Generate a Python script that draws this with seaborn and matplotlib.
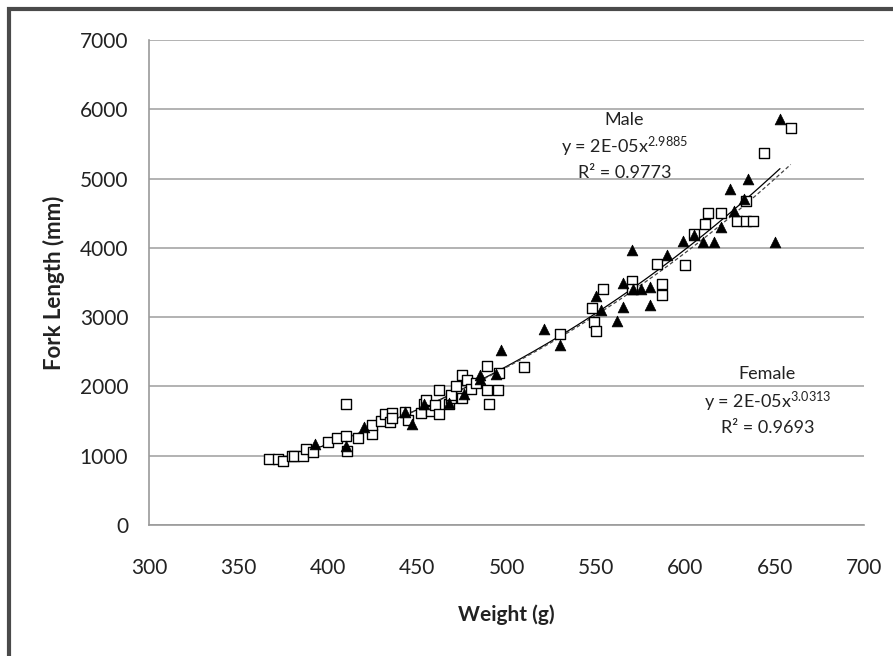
import numpy as np
import pandas as pd
import matplotlib
matplotlib.use("Agg")
import matplotlib.pyplot as plt
from matplotlib.patches import Rectangle
import seaborn as sns

# Data
# open squares (dashed trend line)
female_weight = [367, 372, 375, 380, 381, 386, 388, 392, 400, 405, 410, 410, 411, 417,
                 425, 425, 430, 432, 435, 436, 436, 443, 445, 452, 454, 455, 458, 460,
                 462, 462, 468, 469, 469, 472, 475, 475, 478, 480, 483, 489, 489, 490,
                 495, 496, 510, 530, 548, 549, 550, 554, 570, 570, 584, 587, 587, 600,
                 605, 611, 613, 620, 629, 634, 638, 634, 644, 659]
female_length = [950, 950, 920, 1000, 1000, 1000, 1100, 1050, 1200, 1250, 1290, 1750, 1070, 1250,
                 1310, 1450, 1500, 1600, 1490, 1620, 1550, 1630, 1510, 1610, 1750, 1800, 1650, 1730,
                 1950, 1600, 1750, 1840, 1880, 2010, 2160, 1840, 2100, 1960, 2050, 2300, 1950, 1750,
                 1950, 2200, 2280, 2760, 3130, 2930, 2800, 3400, 3520, 3400, 3760, 3480, 3320, 3750,
                 4200, 4350, 4500, 4500, 4390, 4390, 4390, 4670, 5370, 5730]

# filled triangles (solid trend line)
male_weight = [393, 410, 420, 443, 447, 454, 468, 476, 485, 485, 494, 497, 521, 530,
               550, 553, 562, 565, 565, 570, 571, 575, 580, 580, 590, 599, 605, 610,
               616, 620, 625, 627, 633, 635, 650, 653]
male_length = [1170, 1140, 1410, 1630, 1460, 1740, 1760, 1890, 2160, 2110, 2180, 2520, 2830, 2600,
               3300, 3100, 2950, 3150, 3490, 3970, 3410, 3410, 3440, 3170, 3900, 4100, 4190, 4080,
               4080, 4300, 4850, 4530, 4710, 5000, 4090, 5860]

x_ticks = list(range(300, 701, 50))
y_ticks = list(range(0, 7001, 1000))

female = pd.DataFrame({"Weight": female_weight, "Length": female_length})
male = pd.DataFrame({"Weight": male_weight, "Length": male_length})


def power_fit(df):
    # Excel style power trendline: straight line in log-log space
    b, ln_a = np.polyfit(np.log(df["Weight"]), np.log(df["Length"]), 1)
    xs = np.linspace(df["Weight"].min(), df["Weight"].max(), 200)
    return pd.DataFrame({"Weight": xs, "Length": np.exp(ln_a) * xs ** b})


sns.set_style("white")
plt.rcParams["font.family"] = ["Lato", "DejaVu Sans"]
plt.rcParams["mathtext.fontset"] = "custom"
plt.rcParams["mathtext.rm"] = "Lato"
plt.rcParams["mathtext.it"] = "Lato"

fig = plt.figure(figsize=(8.93, 6.56), dpi=100)
ax = fig.add_axes([149 / 893, 1 - 525 / 656, 715 / 893, 485 / 656])

# gridlines
ax.set_axisbelow(True)
ax.yaxis.grid(True, color="#a6a6a6", linewidth=1.2)
ax.xaxis.grid(False)

# trend lines
sns.lineplot(data=power_fit(male), x="Weight", y="Length", ax=ax,
             color="black", linewidth=0.9, sort=True)
sns.lineplot(data=power_fit(female), x="Weight", y="Length", ax=ax,
             color="#444444", linewidth=0.9, linestyle=(0, (3, 2)), sort=True)

# points
sns.scatterplot(data=female, x="Weight", y="Length", ax=ax, marker="s", s=60,
                facecolor="white", edgecolor="black", linewidth=1.0, zorder=3)
sns.scatterplot(data=male, x="Weight", y="Length", ax=ax, marker="^", s=60,
                color="black", edgecolor="black", linewidth=0.5, zorder=4)

ax.set_xlim(300, 700)
ax.set_ylim(0, 7000)
ax.set_xticks(x_ticks)
ax.set_yticks(y_ticks)
ax.tick_params(axis="both", length=0, labelsize=15, colors="#222222")
ax.tick_params(axis="x", pad=24)
ax.tick_params(axis="y", pad=15)

for side in ["top", "right"]:
    ax.spines[side].set_visible(False)
for side in ["left", "bottom"]:
    ax.spines[side].set_color("#9a9a9a")
    ax.spines[side].set_linewidth(1.2)

ax.set_xlabel("Weight (g)", fontsize=15, fontweight="bold", color="#222222")
ax.set_ylabel("Fork Length (mm)", fontsize=16, fontweight="bold", color="#222222")
ax.xaxis.set_label_coords(0.5, -0.186)
ax.xaxis.label.set_va("center")
ax.yaxis.set_label_coords(-0.133, 0.5)
ax.yaxis.label.set_va("center")

# equation labels
txt = dict(ha="center", va="center", fontsize=13, color="#222222")
ax.text(566, 5850, "Male", **txt)
ax.text(566, 5455, r"y = 2E-05x$^{2.9885}$", **txt)
ax.text(566, 5080, "R² = 0.9773", **txt)
ax.text(646, 2180, "Female", **txt)
ax.text(646, 1775, r"y = 2E-05x$^{3.0313}$", **txt)
ax.text(646, 1400, "R² = 0.9693", **txt)

# chart area border (cut off at right and bottom in the reference)
fig.patches.append(Rectangle((9 / 893, -0.1), 1.2, 1 - 9 / 656 + 0.1,
                             transform=fig.transFigure, fill=False,
                             linewidth=3, edgecolor="#4a4a4a"))

plt.savefig("out.png", dpi=100)
